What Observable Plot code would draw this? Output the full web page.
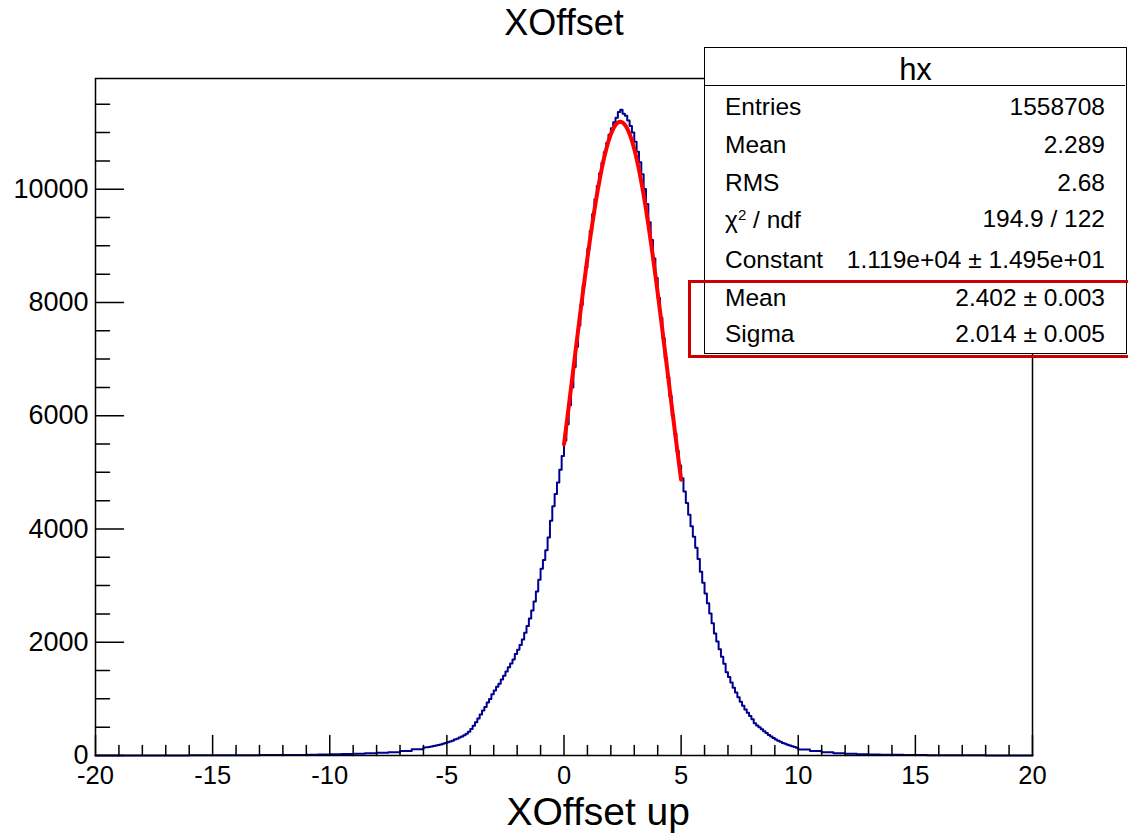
<!DOCTYPE html>
<html><head><meta charset="utf-8">
<script src="https://cdn.jsdelivr.net/npm/d3@7"></script>
<script src="https://cdn.jsdelivr.net/npm/@observablehq/plot@0.6"></script>
<style>
body{margin:0;background:#fff;font-family:"Liberation Sans",Arial,Helvetica,sans-serif;}
#wrap{position:relative;width:1128px;height:833px;overflow:hidden;background:#fff;}
#wrap svg{position:absolute;left:0;top:0;}
.t{position:absolute;line-height:1;white-space:nowrap;color:#000;}
#stats{position:absolute;left:704px;top:47px;width:421px;height:305px;border:1.5px solid #000;background:#fff;}
#stathead{position:absolute;left:704px;top:47px;width:421px;height:38px;border-bottom:1.5px solid #000;}
#redbox{position:absolute;left:688px;top:280px;width:460px;height:72px;border:3.5px solid #cc0000;}
</style></head><body><div id="wrap"></div>
<script>
// ---- histogram data (counts per bin) ----
const leftTailStart = -20, tailWidth = 0.5;   // 0.5-wide bins from -20 to -6
const leftTail = [0,0,1,1,1,2,2,2,3,3,4,4,5,6,7,8,9,11,13,16,20,25,31,38,47,58,80,112];
const coreStart = -6, coreWidth = 0.1;        // 0.1-wide bins from -6 to 10
const core = [
  140,146,151,160,167,176,184,196,206,219,
  233,246,261,281,298,318,337,358,384,418,
  466,527,589,653,726,793,858,934,998,1083,
  1148,1213,1268,1342,1408,1483,1557,1624,1697,1792,
  1868,1953,2048,2167,2289,2418,2562,2718,2897,3104,
  3298,3452,3623,3851,4147,4402,4618,4823,5048,5291,
  5562,5848,6183,6497,6861,7218,7594,7957,8302,8618,
  8953,9262,9558,9823,10058,10284,10468,10652,10817,10963,
  11078,11184,11263,11362,11402,11331,11296,11214,11118,11003,
  10838,10663,10476,10262,10003,9741,9418,9102,8776,8432,
  8078,7731,7368,7023,6679,6342,6003,5682,5378,5121,
  4898,4663,4458,4252,4047,3862,3668,3471,3243,3049,
  2861,2688,2508,2337,2153,2012,1878,1742,1618,1472,
  1388,1287,1198,1112,1028,951,879,814,753,698,
  642,571,528,497,462,428,396,364,336,309,
  284,261,241,222,206,189,176,164,151,139
];
const rightTailStart = 10;                    // 0.5-wide bins from 10 to 20
const rightTail = [108,78,56,41,31,24,19,15,12,10,8,6,5,4,3,3,2,2,1,1];

// ---- Gaussian fit parameters (from stats box) ----
const fitConstant = 11190, fitMean = 2.402, fitSigma = 2.014;
const fitRange = [0, 5];

// ---- axis ticks ----
const xMajor = [-20,-15,-10,-5,0,5,10,15,20];
const xMinor = d3.range(-19, 20, 1).filter(v => v % 5 !== 0);
const yMajor = [0,2000,4000,6000,8000,10000];
const yMinor = d3.range(500, 12000, 500).filter(v => v % 2000 !== 0);
const yMax = 11955;

// ---- stats box text ----
const statTitle = "hx";
const statLabels = ["Entries","Mean","RMS","χ<sup style='font-size:15px;vertical-align:8px'>2</sup> / ndf","Constant","Mean","Sigma"];
const statValues = ["1558708","2.289","2.68","194.9 / 122","1.119e+04 ± 1.495e+01","2.402 ± 0.003","2.014 ± 0.005"];
const statBaselines = [116,154,192,228,269,307,343];

const bins = [];
leftTail.forEach((v,i)=>bins.push({x: leftTailStart + i*tailWidth, y: v}));
core.forEach((v,i)=>bins.push({x: Math.round((coreStart + i*coreWidth)*100)/100, y: v}));
rightTail.forEach((v,i)=>bins.push({x: rightTailStart + i*tailWidth, y: v}));
bins.push({x: 20, y: rightTail[rightTail.length-1]});

const fit = d3.range(fitRange[0], fitRange[1] + 1e-9, 0.02).map(x => ({x, y: fitConstant*Math.exp(-0.5*((x-fitMean)/fitSigma)**2)}));

const tickUp = {draw(c, l){ c.moveTo(0,0); c.lineTo(0,-l); }};
const tickRight = {draw(c, l){ c.moveTo(0,0); c.lineTo(l,0); }};

const chart = Plot.plot({
  width: 1128, height: 833,
  marginLeft: 95, marginRight: 96, marginTop: 78, marginBottom: 78,
  x: {domain: [-20, 20]},
  y: {domain: [0, yMax]},
  style: {fontFamily: '"Liberation Sans", Arial, Helvetica, sans-serif', background: "white", color: "black"},
  marks: [
    Plot.lineY(bins, {x: "x", y: "y", curve: "step-after", stroke: "#000090", strokeWidth: 2}),
    Plot.lineY(fit, {x: "x", y: "y", stroke: "#ff0000", strokeWidth: 4}),
    Plot.frame({stroke: "black", strokeWidth: 1.5}),
    Plot.vector(xMajor, {x: d => d, frameAnchor: "bottom", length: 20, anchor: "start", shape: tickUp, stroke: "black", strokeWidth: 1.5}),
    Plot.vector(xMinor, {x: d => d, frameAnchor: "bottom", length: 10, anchor: "start", shape: tickUp, stroke: "black", strokeWidth: 1.5}),
    Plot.vector(yMajor, {y: d => d, frameAnchor: "left", length: 28, anchor: "start", shape: tickRight, stroke: "black", strokeWidth: 1.5}),
    Plot.vector(yMinor, {y: d => d, frameAnchor: "left", length: 14, anchor: "start", shape: tickRight, stroke: "black", strokeWidth: 1.5}),
    Plot.axisX(xMajor, {anchor: "bottom", tickSize: 0, tickPadding: 10, fontSize: 25.5, tickFormat: d => String(d), label: null}),
    Plot.axisY(yMajor, {anchor: "left", tickSize: 0, tickPadding: 7, fontSize: 27, tickFormat: d => String(d), label: null})
  ]
});

const wrap = document.getElementById("wrap");
wrap.appendChild(chart);

function addText(html, css){
  const d = document.createElement("div");
  d.className = "t"; d.innerHTML = html;
  Object.assign(d.style, css);
  wrap.appendChild(d);
  return d;
}
addText("XOffset", {left: "0px", width: "1128px", textAlign: "center", top: "5px", fontSize: "36px"});
addText("XOffset up", {right: "438px", top: "792px", fontSize: "39px"});

const stats = document.createElement("div"); stats.id = "stats"; wrap.appendChild(stats);
const head = document.createElement("div"); head.id = "stathead"; wrap.appendChild(head);
addText(statTitle, {left: "704px", width: "423px", textAlign: "center", top: (80 - 0.8465*31) + "px", fontSize: "31px"});
statLabels.forEach((lab, i) => {
  const top = (statBaselines[i] - 0.8465*24.5) + "px";
  addText(lab, {left: "725px", top, fontSize: "24.5px"});
  addText(statValues[i], {right: (1128 - 1105) + "px", top, fontSize: "24.5px"});
});
const red = document.createElement("div"); red.id = "redbox"; wrap.appendChild(red);
</script></body></html>
